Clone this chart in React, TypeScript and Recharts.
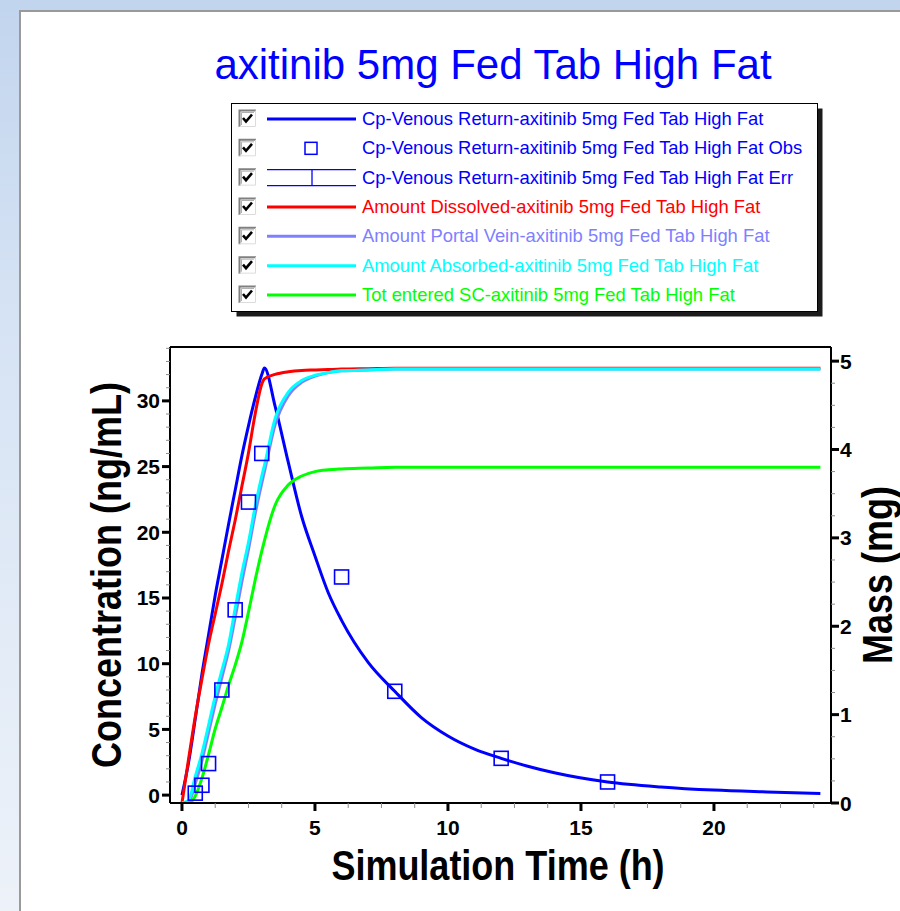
import { ComposedChart, Line, ReferenceLine, Scatter, XAxis, YAxis } from 'recharts';

// Simulated time grid (h)
const simTime = [0, 0.25, 0.5, 0.75, 1, 1.25, 1.5, 1.75, 2, 2.25, 2.5, 2.75, 3, 3.1, 3.5, 4, 4.5, 5, 5.5, 6, 7, 8, 9, 10, 11, 12, 13, 14, 16, 18, 20, 22, 24];

// Plasma concentration, ng/mL
const cpVenous = [0, 2.5, 5.8, 9.2, 12.2, 15.2, 17.9, 20.6, 23.2, 25.8, 28.1, 30.2, 32.0, 32.5, 29.6, 25.3, 21.2, 18.2, 15.4, 13.3, 10.1, 7.9, 5.9, 4.5, 3.5, 2.8, 2.2, 1.7, 1.0, 0.62, 0.38, 0.24, 0.12];

// Cumulative amounts, mg
const amtDissolved = [0, 0.5, 0.98, 1.4, 1.8, 2.14, 2.48, 2.85, 3.2, 3.58, 3.96, 4.4, 4.74, 4.8, 4.85, 4.88, 4.895, 4.9, 4.905, 4.91, 4.915, 4.92, 4.92, 4.92, 4.92, 4.92, 4.92, 4.92, 4.92, 4.92, 4.92, 4.92, 4.92];
const amtPortalVein = [0, 0.01, 0.22, 0.48, 0.8, 1.12, 1.42, 1.72, 2.1, 2.5, 2.87, 3.27, 3.62, 3.75, 4.28, 4.61, 4.76, 4.83, 4.87, 4.89, 4.9, 4.91, 4.91, 4.91, 4.91, 4.91, 4.91, 4.91, 4.91, 4.91, 4.91, 4.91, 4.91];
const amtAbsorbed = [0, 0.03, 0.3, 0.56, 0.88, 1.21, 1.5, 1.79, 2.2, 2.6, 2.95, 3.35, 3.7, 3.82, 4.35, 4.65, 4.78, 4.84, 4.87, 4.89, 4.9, 4.91, 4.91, 4.91, 4.91, 4.91, 4.91, 4.91, 4.91, 4.91, 4.91, 4.91, 4.91];
const totEnteredSC = [0, 0, 0.08, 0.28, 0.55, 0.84, 1.08, 1.33, 1.56, 1.82, 2.16, 2.52, 2.85, 2.97, 3.37, 3.6, 3.7, 3.75, 3.77, 3.78, 3.79, 3.8, 3.8, 3.8, 3.8, 3.8, 3.8, 3.8, 3.8, 3.8, 3.8, 3.8, 3.8];

// Observed plasma concentrations
const obsTime = [0.5, 0.75, 1, 1.5, 2, 2.5, 3, 6, 8, 12, 16];
const obsConc = [0.15, 0.75, 2.4, 8.0, 14.1, 22.3, 26.0, 16.6, 7.9, 2.8, 1.0];

// Axis ticks
const xMajor = [0, 5, 10, 15, 20];
const concMajor = [0, 5, 10, 15, 20, 25, 30];
const massMajor = [0, 1, 2, 3, 4, 5];

const X_DOMAIN: [number, number] = [-0.45, 24.4];
const CONC_DOMAIN: [number, number] = [-0.6, 34.1];
const MASS_DOMAIN: [number, number] = [0, 5.16];

const TITLE = 'axitinib 5mg Fed Tab High Fat';
const X_TITLE = 'Simulation Time (h)';
const Y_LEFT_TITLE = 'Concentration (ng/mL)';
const Y_RIGHT_TITLE = 'Mass (mg)';

const legendItems = [
  { label: 'Cp-Venous Return-axitinib 5mg Fed Tab High Fat', color: '#0000ff', kind: 'line' },
  { label: 'Cp-Venous Return-axitinib 5mg Fed Tab High Fat Obs', color: '#0000ff', kind: 'square' },
  { label: 'Cp-Venous Return-axitinib 5mg Fed Tab High Fat Err', color: '#0000ff', kind: 'err' },
  { label: 'Amount Dissolved-axitinib 5mg Fed Tab High Fat', color: '#ff0000', kind: 'line' },
  { label: 'Amount Portal Vein-axitinib 5mg Fed Tab High Fat', color: '#8080ff', kind: 'line' },
  { label: 'Amount Absorbed-axitinib 5mg Fed Tab High Fat', color: '#00ffff', kind: 'line' },
  { label: 'Tot entered SC-axitinib 5mg Fed Tab High Fat', color: '#00ff00', kind: 'line' },
];

const simRows = simTime.map((t, i) => ({
  t,
  cp: cpVenous[i],
  dissolved: amtDissolved[i],
  portal: amtPortalVein[i],
  absorbed: amtAbsorbed[i],
  sc: totEnteredSC[i],
}));
const obsRows = obsTime.map((t, i) => ({ t, cp: obsConc[i] }));

const steps = (from: number, to: number, step: number) => {
  const out: number[] = [];
  for (let v = from; v <= to + 1e-9; v += step) out.push(Math.round(v * 1000) / 1000);
  return out;
};
const xTicks = steps(0, 24, 1.25);
const concTicks = steps(0, 34, 1);
const massTicks = steps(0, 5, 0.25);

const W = 900;
const H = 911;
const MARGIN = { top: 347, right: 9, bottom: 48, left: 90 };
const Y_LEFT_W = 80;
const Y_RIGHT_W = 60;
const X_H = 60;
const PLOT_TOP = MARGIN.top;
const PLOT_BOTTOM = H - MARGIN.bottom - X_H;
const PLOT_MID_Y = (PLOT_TOP + PLOT_BOTTOM) / 2;

const FONT = '"Liberation Sans", Arial, Helvetica, sans-serif';
const tickFont = { fontFamily: FONT, fontSize: 21, fontWeight: 700, fill: '#000' };
const MINOR = '#8c8c8c';

const XTick = ({ x, y, payload }: any) =>
  xMajor.includes(payload.value) ? (
    <g>
      <line x1={x} y1={y} x2={x} y2={y + 8} stroke="#000" strokeWidth={3} />
      <text x={x} y={y + 32} textAnchor="middle" {...tickFont}>{payload.value}</text>
    </g>
  ) : (
    <line x1={x} y1={y} x2={x} y2={y + 5} stroke={MINOR} strokeWidth={1} />
  );

const ConcTick = ({ x, y, payload }: any) =>
  concMajor.includes(payload.value) ? (
    <g>
      <line x1={x} y1={y} x2={x - 8} y2={y} stroke="#000" strokeWidth={3} />
      <text x={x - 10} y={y + 7.5} textAnchor="end" {...tickFont}>{payload.value}</text>
    </g>
  ) : (
    <line x1={x} y1={y} x2={x - 4} y2={y} stroke={MINOR} strokeWidth={1} />
  );

const MassTick = ({ x, y, payload }: any) =>
  massMajor.includes(payload.value) ? (
    <g>
      <line x1={x} y1={y} x2={x + 8} y2={y} stroke="#000" strokeWidth={3} />
      <text x={x + 9} y={y + 7.5} textAnchor="start" {...tickFont}>{payload.value}</text>
    </g>
  ) : (
    <line x1={x} y1={y} x2={x + 4} y2={y} stroke={MINOR} strokeWidth={1} />
  );

const ObsSquare = ({ cx, cy }: any) => (
  <rect x={cx - 7} y={cy - 7} width={14} height={14} fill="none" stroke="#0000ff" strokeWidth={1.6} />
);

const axisLine = { stroke: '#000', strokeWidth: 2 };

const CheckBox = ({ x, y }: { x: number; y: number }) => (
  <g>
    <rect x={x} y={y} width={17} height={17} fill="#fff" />
    <path d={`M${x + 0.5} ${y + 17} V${y + 0.5} H${x + 17}`} fill="none" stroke="#808080" strokeWidth={2} />
    <path d={`M${x + 2.5} ${y + 15} V${y + 2.5} H${x + 15}`} fill="none" stroke="#b0b0b0" strokeWidth={1} />
    <path d={`M${x + 16.5} ${y + 0.5} V${y + 16.5} H${x + 0.5}`} fill="none" stroke="#dcdcdc" strokeWidth={1} />
    <polyline points={`${x + 4},${y + 8} ${x + 7},${y + 11.5} ${x + 13},${y + 4.5}`} fill="none" stroke="#000" strokeWidth={2.6} />
  </g>
);

const LegendBox = () => {
  const left = 231.5;
  const top = 103.5;
  const w = 586;
  const h = 208;
  return (
    <g>
      <rect x={left + 5} y={top + 5} width={w} height={h} fill="#1c1c1c" />
      <rect x={left} y={top} width={w} height={h} fill="#fff" stroke="#000" strokeWidth={1} />
      {legendItems.map((item, i) => {
        const base = 125 + i * 29.33;
        const cy = base - 6;
        return (
          <g key={item.label}>
            <CheckBox x={239} y={cy - 9} />
            {item.kind === 'line' && (
              <line x1={267} y1={cy} x2={356} y2={cy} stroke={item.color} strokeWidth={3} />
            )}
            {item.kind === 'square' && (
              <rect x={305} y={cy - 6} width={12} height={12} fill="none" stroke={item.color} strokeWidth={1.5} />
            )}
            {item.kind === 'err' && (
              <g stroke={item.color} strokeWidth={1.3}>
                <line x1={267} y1={cy - 8} x2={356} y2={cy - 8} />
                <line x1={267} y1={cy + 8} x2={356} y2={cy + 8} />
                <line x1={312} y1={cy - 8} x2={312} y2={cy + 8} />
              </g>
            )}
            <text x={362} y={base} fontFamily={FONT} fontSize={18.4} fill={item.color}>{item.label}</text>
          </g>
        );
      })}
    </g>
  );
};

// bold axis title, drawn a little taller than wide
const AxisTitle = ({ x, y, angle, children }: { x: number; y: number; angle: number; children: string }) => (
  <text
    transform={`translate(${x} ${y}) rotate(${angle}) scale(1 1.16)`}
    textAnchor="middle"
    fontFamily={FONT}
    fontSize={36}
    fontWeight={700}
  >
    {children}
  </text>
);

const App = () => (
  <div
    style={{
      position: 'absolute',
      left: 0,
      top: 0,
      width: W,
      height: H,
      overflow: 'hidden',
      background: 'linear-gradient(180deg, #c2d5ee 0%, #d6e3f4 35%, #edf2f9 100%)',
    }}
  >
    <div
      style={{
        position: 'absolute',
        left: 19,
        top: 10,
        width: W,
        height: H,
        background: '#fff',
        borderLeft: '2px solid #9a9a9a',
        borderTop: '2px solid #9a9a9a',
      }}
    />
    <div style={{ position: 'absolute', left: 0, top: 0 }}>
      <ComposedChart width={W} height={H} data={simRows} margin={MARGIN}>
        <XAxis
          xAxisId="t"
          dataKey="t"
          type="number"
          domain={X_DOMAIN}
          allowDataOverflow
          ticks={xTicks}
          interval={0}
          tick={(p: any) => <XTick {...p} />}
          tickLine={false}
          tickSize={0}
          tickMargin={0}
          axisLine={axisLine}
          height={X_H}
        />
        <YAxis
          yAxisId="conc"
          orientation="left"
          type="number"
          domain={CONC_DOMAIN}
          allowDataOverflow
          ticks={concTicks}
          interval={0}
          tick={(p: any) => <ConcTick {...p} />}
          tickLine={false}
          tickSize={0}
          tickMargin={0}
          axisLine={axisLine}
          width={Y_LEFT_W}
        />
        <YAxis
          yAxisId="mass"
          orientation="right"
          type="number"
          domain={MASS_DOMAIN}
          allowDataOverflow
          ticks={massTicks}
          interval={0}
          tick={(p: any) => <MassTick {...p} />}
          tickLine={false}
          tickSize={0}
          tickMargin={0}
          axisLine={axisLine}
          width={Y_RIGHT_W}
        />
        {/* top edge of the plot frame */}
        <ReferenceLine xAxisId="t" yAxisId="conc" y={CONC_DOMAIN[1]} stroke="#000" strokeWidth={2} />
        <Line xAxisId="t" yAxisId="conc" dataKey="cp" type="monotone" stroke="#0000ff" strokeWidth={3} dot={false} isAnimationActive={false} />
        <Line xAxisId="t" yAxisId="mass" dataKey="dissolved" type="monotone" stroke="#ff0000" strokeWidth={3} dot={false} isAnimationActive={false} />
        <Line xAxisId="t" yAxisId="mass" dataKey="portal" type="monotone" stroke="#8080ff" strokeWidth={3} dot={false} isAnimationActive={false} />
        <Line xAxisId="t" yAxisId="mass" dataKey="absorbed" type="monotone" stroke="#00ffff" strokeWidth={3} dot={false} isAnimationActive={false} />
        <Line xAxisId="t" yAxisId="mass" dataKey="sc" type="monotone" stroke="#00ff00" strokeWidth={3} dot={false} isAnimationActive={false} />
        <Scatter xAxisId="t" yAxisId="conc" data={obsRows} dataKey="cp" shape={ObsSquare} isAnimationActive={false} />
      </ComposedChart>
    </div>
    <svg width={W} height={H} style={{ position: 'absolute', left: 0, top: 0, pointerEvents: 'none' }}>
      <text x={493} y={79} textAnchor="middle" fontFamily={FONT} fontSize={42} fill="#0000ff">{TITLE}</text>
      <LegendBox />
      <AxisTitle x={498} y={880} angle={0}>{X_TITLE}</AxisTitle>
      <AxisTitle x={121} y={PLOT_MID_Y} angle={-90}>{Y_LEFT_TITLE}</AxisTitle>
      <AxisTitle x={892} y={PLOT_MID_Y} angle={-90}>{Y_RIGHT_TITLE}</AxisTitle>
    </svg>
  </div>
);

export default App;
